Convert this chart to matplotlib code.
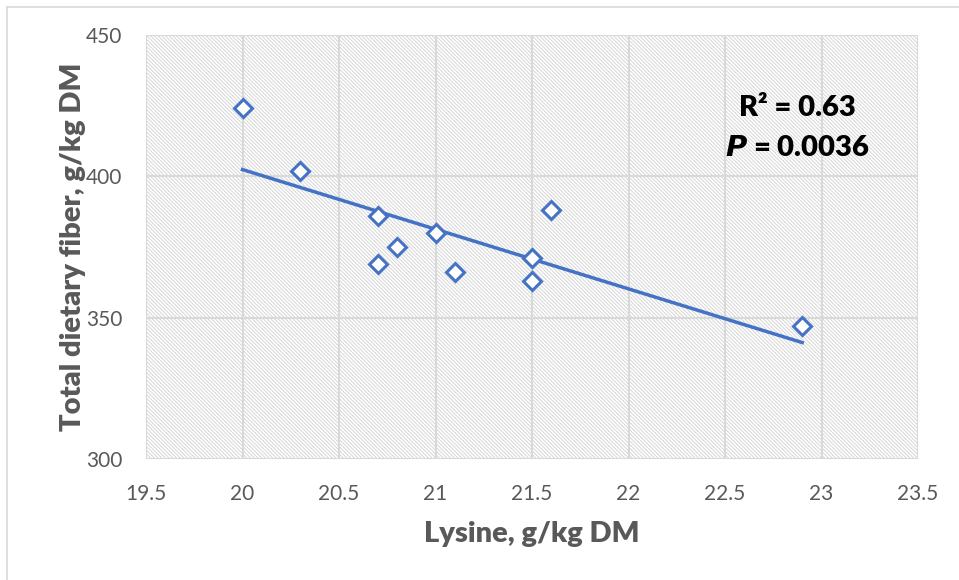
import numpy as np
import matplotlib
matplotlib.use("Agg")
import matplotlib.pyplot as plt
from matplotlib.lines import Line2D

lysine = [20.0, 20.3, 20.7, 20.7, 20.8, 21.0, 21.1, 21.5, 21.5, 21.6, 22.9]
tdf = [424, 402, 386, 369, 375, 380, 366, 371, 363, 388, 347]
x_ticks = [19.5, 20, 20.5, 21, 21.5, 22, 22.5, 23, 23.5]
x_ticklabels = ["19.5", "20", "20.5", "21", "21.5", "22", "22.5", "23", "23.5"]
y_ticks = [300, 350, 400, 450]
annot_r2 = "R² = 0.63"
annot_p = "$\\mathbfit{P}$ = 0.0036"

plt.rcParams['font.family'] = ['Lato', 'DejaVu Sans']
plt.rcParams['hatch.color'] = '#d6d6d6'
plt.rcParams['hatch.linewidth'] = 0.7

fig = plt.figure(figsize=(9.59, 5.80), dpi=100)
ax = fig.add_axes([146/959, 1-459/580, (918-146)/959, (459-35)/580])

ax.set_xlim(19.5, 23.5)
ax.set_ylim(300, 450)
ax.patch.set_facecolor('white')
ax.fill_between([19.5, 23.5], 300, 450, facecolor='white', edgecolor='#d6d6d6',
                hatch='\\' * 9, linewidth=0, zorder=0)

ax.set_xticks(x_ticks)
ax.set_xticklabels(x_ticklabels)
ax.set_yticks(y_ticks)
ax.grid(True, color='#d9d9d9', linewidth=1.5, zorder=1)
ax.set_axisbelow(True)
for s in ax.spines.values():
    s.set_visible(False)
ax.tick_params(length=0, labelsize=15, labelcolor='#595959')
ax.tick_params(axis='x', pad=18)
ax.tick_params(axis='y', pad=17)

coef = np.polyfit(lysine, tdf, 1)
xl = np.array([min(lysine), max(lysine)])
ax.plot(xl, np.polyval(coef, xl), color='#4472C4', linewidth=2.5, zorder=3)
ax.plot(lysine, tdf, linestyle='none', marker='D', markersize=9,
        markerfacecolor='white', markeredgecolor='#4472C4', markeredgewidth=2.2, zorder=4)

ax.set_xlabel("Lysine, g/kg DM", fontsize=21, fontweight='heavy', color='#595959', labelpad=12)
ax.set_ylabel("Total dietary fiber, g/kg DM", fontsize=21, fontweight='heavy', color='#595959', labelpad=0)

ax.text(22.875, 424, annot_r2, fontsize=21, fontweight='heavy', ha='center', va='center', color='black')
ax.text(22.875, 410, annot_p, fontsize=21, fontweight='heavy', ha='center', va='center', color='black')

fig.add_artist(Line2D([7/959, 7/959], [0, 1-7/580], color='#d9d9d9', linewidth=1.2))
fig.add_artist(Line2D([7/959, 1], [1-7/580, 1-7/580], color='#d9d9d9', linewidth=1.2))

fig.savefig("out.png", dpi=100)
